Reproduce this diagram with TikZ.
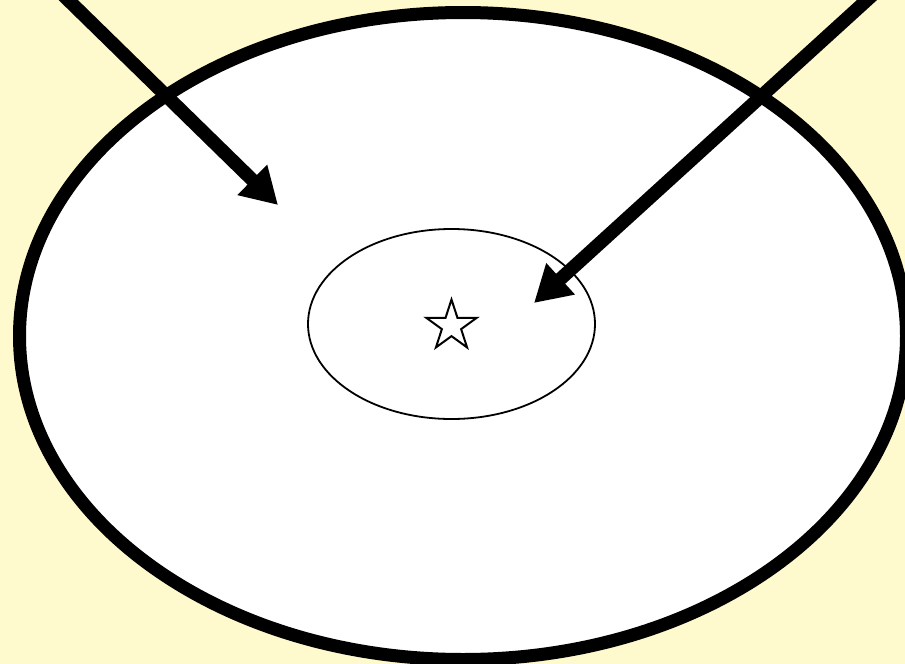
\documentclass[tikz,border=0pt]{standalone}
\usepackage{tikz}
\usetikzlibrary{arrows.meta,positioning,shapes.geometric}
\definecolor{paleyellow}{RGB}{255,250,205}

\begin{document}
\begin{tikzpicture}[x=1pt,y=-1pt,
    rim/.style={draw=black,line width=13pt,fill=white,ellipse,inner sep=0pt},
    core/.style={draw=black,line width=1.8pt,ellipse,inner sep=0pt},
    starry/.style={draw=black,line width=2pt,star,star points=5,star point ratio=2.618,minimum size=53pt,inner sep=0pt},
    pointer/.style={-{Triangle[length=36pt,width=40pt]},line width=13.5pt,black}]
    \useasboundingbox (0,0) rectangle (905,664);
    \clip (0,0) rectangle (905,664);
    \fill[paleyellow] (0,0) rectangle (905,664);
    \node[rim,minimum width=887pt,minimum height=647pt] (outer) at (463,336) {};
    \node[core,minimum width=287pt,minimum height=190pt] (inner) at (451.5,324) {};
    \node[starry] (target) at (451.5,326) {};
    \coordinate (lstart) at (58,-10);
    \coordinate (ltip) at (278,205);
    \coordinate (rstart) at (878,-10);
    \coordinate (rtip) at (534,303);
    \draw[pointer] (lstart) -- (ltip);
    \draw[pointer] (rstart) -- (rtip);
  \end{tikzpicture}
\end{document}
